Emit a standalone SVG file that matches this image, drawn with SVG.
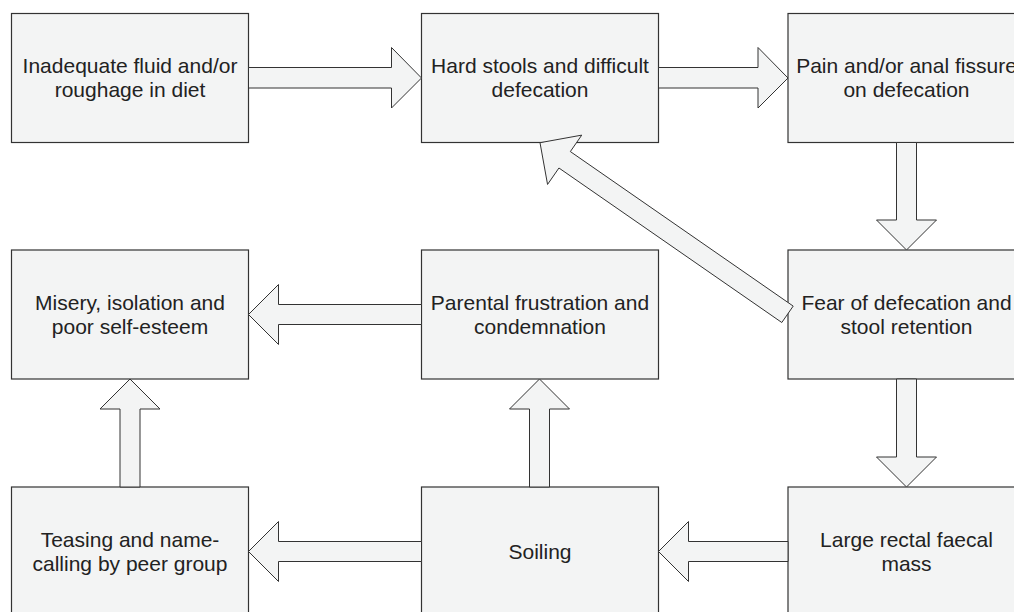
<svg xmlns="http://www.w3.org/2000/svg" width="1014" height="612" viewBox="0 0 1014 612">
<style>
.box{fill:#f3f4f4;stroke:#333;stroke-width:1.2}
.arr{fill:#f3f4f4;stroke:#333;stroke-width:1}
.t{font-family:"Liberation Sans",Arial,sans-serif;font-size:21px;fill:#222;text-anchor:middle}
</style>
<rect width="1014" height="612" fill="#fff"/>
<g id="n1"><rect class="box" x="11.5" y="13.5" width="237" height="129"/><text class="t" x="130" y="72.7">Inadequate fluid and/or</text><text class="t" x="130" y="96.7">roughage in diet</text></g>
<g id="n2"><rect class="box" x="421.5" y="13.5" width="237" height="129"/><text class="t" x="540" y="72.7">Hard stools and difficult</text><text class="t" x="540" y="96.7">defecation</text></g>
<g id="n3"><rect class="box" x="788" y="13.5" width="237" height="129"/><text class="t" x="906.5" y="72.7">Pain and/or anal fissure</text><text class="t" x="906.5" y="96.7">on defecation</text></g>
<g id="n4"><rect class="box" x="11.5" y="250" width="237" height="129"/><text class="t" x="130" y="309.7">Misery, isolation and</text><text class="t" x="130" y="333.7">poor self-esteem</text></g>
<g id="n5"><rect class="box" x="421.5" y="250" width="237" height="129"/><text class="t" x="540" y="309.7">Parental frustration and</text><text class="t" x="540" y="333.7">condemnation</text></g>
<g id="n6"><rect class="box" x="788" y="250" width="237" height="129"/><text class="t" x="906.5" y="309.7">Fear of defecation and</text><text class="t" x="906.5" y="333.7">stool retention</text></g>
<g id="n7"><rect class="box" x="11.5" y="487" width="237" height="129"/><text class="t" x="130" y="546.7">Teasing and name-</text><text class="t" x="130" y="570.7">calling by peer group</text></g>
<g id="n8"><rect class="box" x="421.5" y="487" width="237" height="129"/><text class="t" x="540" y="558.8">Soiling</text></g>
<g id="n9"><rect class="box" x="788" y="487" width="237" height="129"/><text class="t" x="906.5" y="546.7">Large rectal faecal</text><text class="t" x="906.5" y="570.7">mass</text></g>
<g id="connectors">
<polygon class="arr" points="248.5,67.5 391.5,67.5 391.5,47.5 421.5,78 391.5,108 391.5,88 248.5,88"/>
<polygon class="arr" points="658.5,67.5 758,67.5 758,47.5 788,78 758,108 758,88 658.5,88"/>
<polygon class="arr" points="896.5,142.5 916.5,142.5 916.5,220 936.5,220 906.5,250 876.5,220 896.5,220"/>
<polygon class="arr" points="896.5,379 916.5,379 916.5,457 936.5,457 906.5,487 876.5,457 896.5,457"/>
<polygon class="arr" points="788,541.5 688.5,541.5 688.5,521.5 658.5,551.5 688.5,581.5 688.5,561.5 788,561.5"/>
<polygon class="arr" points="421.5,541.5 278.5,541.5 278.5,521.5 248.5,551.5 278.5,581.5 278.5,561.5 421.5,561.5"/>
<polygon class="arr" points="421.5,304.5 278.5,304.5 278.5,284.5 248.5,314.5 278.5,344.5 278.5,324.5 421.5,324.5"/>
<polygon class="arr" points="529.5,487 549.5,487 549.5,409 569.5,409 539.5,379 509.5,409 529.5,409"/>
<polygon class="arr" points="120,487 140,487 140,409 160,409 130,379 100,409 120,409"/>
<polygon class="arr" points="793.2,306.1 570.35,151.57 581.74,135.14 540,142.7 547.56,184.44 558.95,168.01 781.8,322.5"/>
</g>
</svg>
